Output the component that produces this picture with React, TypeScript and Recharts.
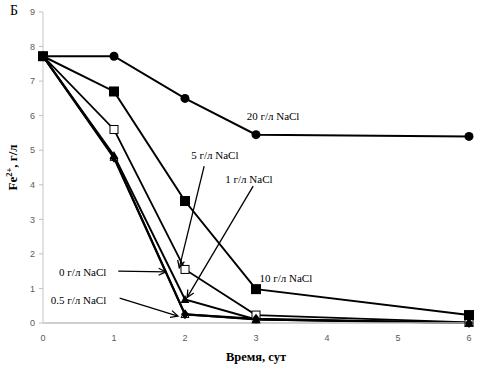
import React from 'react';
import { LineChart, Line, XAxis, YAxis, ReferenceLine, ReferenceDot, Label } from 'recharts';

// Время, сут
const days = [0, 1, 2, 3, 6];
// Fe2+, г/л для разных концентраций NaCl
const nacl20 = [7.72, 7.72, 6.5, 5.45, 5.4];
const nacl10 = [7.72, 6.7, 3.53, 0.98, 0.23];
const nacl5 = [7.72, 5.6, 1.55, 0.23, 0.02];
const nacl1 = [7.72, 4.85, 0.68, 0.1, 0.0];
const nacl05 = [7.72, 4.8, 0.25, 0.1, 0.0];
const nacl0 = [7.72, 4.78, 0.25, 0.12, 0.0];

const xTicks = [0, 1, 2, 3, 4, 5, 6];
const yTicks = [0, 1, 2, 3, 4, 5, 6, 7, 8, 9];

// подписи серий и стрелки к ним (в координатах данных)
const labels = [
  { text: '20 г/л NaCl', x: 3.24, y: 6.0 },
  { text: '10 г/л NaCl', x: 3.42, y: 1.3 },
  { text: '5 г/л NaCl', x: 2.42, y: 4.85 },
  { text: '1 г/л NaCl', x: 2.9, y: 4.18 },
  { text: '0 г/л NaCl', x: 0.56, y: 1.48 },
  { text: '0.5 г/л NaCl', x: 0.5, y: 0.66 },
];
const arrows = [
  { from: { x: 2.27, y: 4.54 }, to: { x: 1.92, y: 1.6 } },
  { from: { x: 2.96, y: 3.96 }, to: { x: 2.03, y: 0.74 } },
  { from: { x: 1.06, y: 1.5 }, to: { x: 1.73, y: 1.48 } },
  { from: { x: 1.08, y: 0.72 }, to: { x: 1.9, y: 0.2 } },
];

const data = days.map((d, i) => ({
  day: d,
  n20: nacl20[i],
  n10: nacl10[i],
  n5: nacl5[i],
  n1: nacl1[i],
  n05: nacl05[i],
  n0: nacl0[i],
}));

const Circle = (p: any) => <circle key={p.index} cx={p.cx} cy={p.cy} r={4.5} fill="#000" />;
const FilledSquare = (p: any) => (
  <rect key={p.index} x={p.cx - 5} y={p.cy - 5} width={10} height={10} fill="#000" />
);
const OpenSquare = (p: any) => (
  <rect key={p.index} x={p.cx - 4} y={p.cy - 4} width={8} height={8} fill="#fff" stroke="#000" strokeWidth={1} />
);
const tri = (cx: number, cy: number, s: number) =>
  `${cx},${cy - s} ${cx + s},${cy + s * 0.8} ${cx - s},${cy + s * 0.8}`;
const FilledTriangle = (p: any) => <polygon key={p.index} points={tri(p.cx, p.cy, 4.5)} fill="#000" />;
const OpenTriangle = (p: any) => (
  <polygon key={p.index} points={tri(p.cx, p.cy, 4)} fill="#fff" stroke="#000" strokeWidth={1} />
);
const Diamond = (p: any) => (
  <polygon
    key={p.index}
    points={`${p.cx},${p.cy - 5} ${p.cx + 4},${p.cy} ${p.cx},${p.cy + 5} ${p.cx - 4},${p.cy}`}
    fill="#000"
  />
);

const Arrow = (p: any) => {
  const { x1, y1, x2, y2 } = p;
  const a = Math.atan2(y2 - y1, x2 - x1);
  const h = 8;
  const w = 0.45;
  return (
    <g>
      <line x1={x1} y1={y1} x2={x2} y2={y2} stroke="#000" strokeWidth={1.3} />
      <polyline
        points={`${x2 - h * Math.cos(a - w)},${y2 - h * Math.sin(a - w)} ${x2},${y2} ${x2 - h * Math.cos(a + w)},${y2 - h * Math.sin(a + w)}`}
        fill="none"
        stroke="#000"
        strokeWidth={1.3}
      />
    </g>
  );
};

const serif = '"Liberation Serif", "Times New Roman", serif';
const sans = '"Liberation Sans", Arial, sans-serif';

const YTitle = (p: any) => {
  const vb = p.viewBox || { x: 0, y: 12, width: 43, height: 311 };
  const cx = 17;
  const cy = vb.y + vb.height / 2;
  return (
    <text
      x={cx}
      y={cy}
      transform={`rotate(-90, ${cx}, ${cy})`}
      textAnchor="middle"
      fontFamily={serif}
      fontWeight="bold"
      fontSize={13}
      fill="#000"
    >
      Fe
      <tspan fontSize={8.5} dy={-5}>2+</tspan>
      <tspan dy={5}>, г/л</tspan>
    </text>
  );
};

const App: React.FC = () => {
  return (
    <div style={{ position: 'absolute', left: 0, top: 0, width: 477, height: 369, background: '#fff' }}>
      <div
        style={{
          position: 'absolute',
          left: 10,
          top: 3,
          fontFamily: serif,
          fontSize: 14,
          color: '#000',
        }}
      >
        Б
      </div>
      <LineChart width={477} height={369} data={data} margin={{ top: 12, right: 8, left: 0, bottom: 0 }}>
        <XAxis
          dataKey="day"
          type="number"
          domain={[0, 6]}
          ticks={xTicks}
          interval={0}
          height={46}
          axisLine={{ stroke: '#bfbfbf', strokeWidth: 1.5 }}
          tickLine={false}
          tick={{ fontSize: 9, fill: '#595959', fontFamily: sans }}
          tickMargin={6}
        >
          <Label
            value="Время, сут"
            position="insideBottom"
            offset={8}
            style={{ fontFamily: serif, fontWeight: 'bold', fontSize: 12.5, fill: '#000' }}
          />
        </XAxis>
        <YAxis
          type="number"
          domain={[0, 9]}
          ticks={yTicks}
          interval={0}
          width={43}
          axisLine={{ stroke: '#d9d9d9', strokeWidth: 1.5 }}
          tickLine={{ stroke: '#bfbfbf' }}
          tickSize={4}
          tick={{ fontSize: 9, fill: '#595959', fontFamily: sans }}
          tickMargin={4}
        >
          <Label content={<YTitle />} />
        </YAxis>

        <Line dataKey="n05" stroke="#000" strokeWidth={2} dot={OpenTriangle} isAnimationActive={false} />
        <Line dataKey="n5" stroke="#000" strokeWidth={1.8} dot={OpenSquare} isAnimationActive={false} />
        <Line dataKey="n0" stroke="#000" strokeWidth={2.2} dot={Diamond} isAnimationActive={false} />
        <Line dataKey="n1" stroke="#000" strokeWidth={2} dot={FilledTriangle} isAnimationActive={false} />
        <Line dataKey="n20" stroke="#000" strokeWidth={2} dot={Circle} isAnimationActive={false} />
        <Line dataKey="n10" stroke="#000" strokeWidth={2} dot={FilledSquare} isAnimationActive={false} />

        {arrows.map((a, i) => (
          <ReferenceLine
            key={`arrow-${i}`}
            segment={[a.from, a.to]}
            shape={(p: any) => <Arrow {...p} />}
            ifOverflow="visible"
          />
        ))}
        {labels.map((l, i) => (
          <ReferenceDot
            key={`label-${i}`}
            x={l.x}
            y={l.y}
            r={1}
            ifOverflow="visible"
            shape={(p: any) => (
              <text
                x={p.cx}
                y={p.cy}
                textAnchor="middle"
                dominantBaseline="central"
                fontFamily={serif}
                fontSize={11}
                fill="#000"
              >
                {l.text}
              </text>
            )}
          />
        ))}
      </LineChart>
    </div>
  );
};

export default App;
